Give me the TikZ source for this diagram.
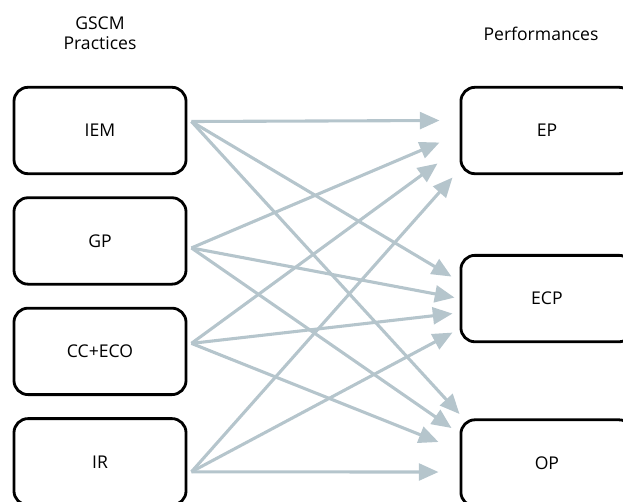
\documentclass[tikz,border=0pt]{standalone}
\usepackage{fontspec}
\setmainfont{Open Sans}
\usetikzlibrary{positioning,arrows.meta}
\definecolor{linkgrey}{HTML}{B5C5CC}
\tikzset{
    every node/.style={font=\fontsize{12.5}{14.5}\selectfont},
    block/.style={draw=black,line width=2pt,rounded corners=10pt,minimum width=4.3cm,minimum height=2.16cm,inner sep=0pt},
    heading/.style={align=center},
    link/.style={draw=linkgrey,line width=2.2pt,-{Triangle[length=14pt,width=12pt]}}
}

\begin{document}
\begin{tikzpicture}[x=0.025cm,y=-0.025cm]
    \useasboundingbox (0,0) rectangle (623,501);
    \clip (0,0) rectangle (623,501);
    % headings
    \node[heading] (practices) at (100,33) {GSCM\\Practices};
    \node[heading] (performances) at (541,34) {Performances};
    % practices
    \node[block] (iem) at (100,130.5) {IEM};
    \node[block,below=0.53cm of iem] (gp) {GP};
    \node[block,below=0.53cm of gp] (cceco) {CC+ECO};
    \node[block,below=0.53cm of cceco] (ir) {IR};
    % performances
    \node[block,right=6.8cm of iem] (ep) {EP};
    \node[block,below=1.97cm of ep] (ecp) {ECP};
    \node[block,below=1.88cm of ecp] (op) {OP};
    % links
    \foreach \src/\sx/\sy/\dst/\dx/\dy in {
        iem/4/-9/ep/-20/-10, iem/4/-9/ecp/-8/-22, iem/4/-9/op/0/-49,
        gp/4/7/ep/-20/12, gp/4/7/ecp/-5/-1, gp/4/7/op/-8/-35,
        cceco/4/-8/ep/-22/33, cceco/4/-8/ecp/-7/15, cceco/4/-8/op/-21/-21,
        ir/4/10/ep/-7/47, ir/4/10/ecp/-7/34, ir/4/10/op/-21/9}
        \draw[link] ([shift={(\sx,\sy)}]\src.east) -- ([shift={(\dx,\dy)}]\dst.west);
\end{tikzpicture}
\end{document}
